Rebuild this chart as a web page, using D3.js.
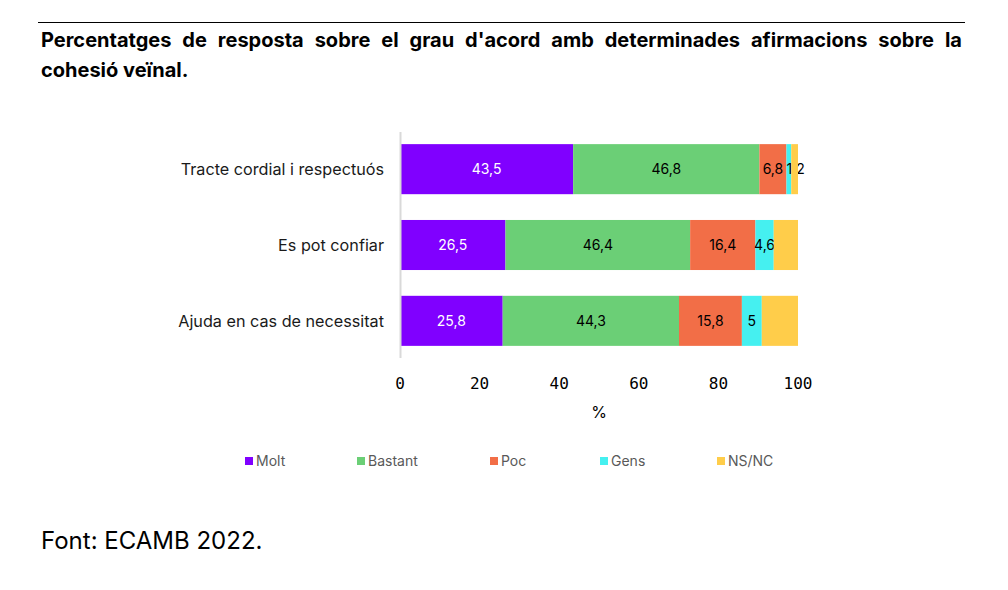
<!DOCTYPE html>
<html>
<head>
<meta charset="utf-8">
<script src="https://cdn.jsdelivr.net/npm/d3@7"></script>
<style>
  body { margin: 0; background: #fff; }
  text { font-family: Inter, "Noto Sans", sans-serif; }
</style>
</head>
<body>
<div class="content"></div>
<script>
var categories = ['Tracte cordial i respectuós', 'Es pot confiar', 'Ajuda en cas de necessitat']
var seriesNames = ['Molt', 'Bastant', 'Poc', 'Gens', 'NS/NC']
var molt = [43.5, 26.5, 25.8]
var bastant = [46.8, 46.4, 44.3]
var poc = [6.8, 16.4, 15.8]
var gens = [1.2, 4.6, 5]
var nsnc = [1.7, 6.1, 9.1]
var xTicks = [0, 20, 40, 60, 80, 100]
var colors = ['#8000ff', '#6bcf76', '#f26e47', '#45f0f0', '#ffcd4a']
var showLabel = [true, true, true, true, false]

var width = 1008
var height = 590

var rows = categories.map(function(c, i) {
    return { cat: c, Molt: molt[i], Bastant: bastant[i], Poc: poc[i], Gens: gens[i], 'NS/NC': nsnc[i] }
})

var svg = d3.select('.content').append('svg')
    .attr('width', width)
    .attr('height', height)

// top rule + title
svg.append('line')
    .attr('x1', 38).attr('x2', 965)
    .attr('y1', 22.5).attr('y2', 22.5)
    .attr('stroke', '#000').attr('stroke-width', 1)

var title1 = svg.append('text')
    .attr('x', 41).attr('y', 47)
    .style('font-size', '20px').style('font-weight', 'bold')
    .text("Percentatges de resposta sobre el grau d'acord amb determinades afirmacions sobre la")
// justify first line by spreading the words
var natural = title1.node().getComputedTextLength()
var gaps = title1.text().split(' ').length - 1
title1.style('word-spacing', ((921 - natural) / gaps) + 'px')

svg.append('text')
    .attr('x', 41).attr('y', 77)
    .style('font-size', '20px').style('font-weight', 'bold')
    .text('cohesió veïnal.')

var x = d3.scaleLinear()
    .domain([0, 100])
    .range([400, 798])

var y = d3.scaleBand()
    .domain(categories)
    .range([132, 358])
    .paddingInner(0.34)
    .paddingOuter(0.16)

var stack = d3.stack().keys(seriesNames)(rows)

var layers = svg.append('g').selectAll('g')
    .data(stack)
    .enter().append('g')
    .attr('fill', function(d, i) { return colors[i] })

layers.selectAll('rect')
    .data(function(d) { return d })
    .enter().append('rect')
    .attr('x', function(d) { return x(d[0]) })
    .attr('width', function(d) { return x(d[1]) - x(d[0]) })
    .attr('y', function(d) { return y(d.data.cat) })
    .attr('height', y.bandwidth())

layers.each(function(s, i) {
    if (!showLabel[i]) return
    d3.select(this).selectAll('text')
        .data(s)
        .enter().append('text')
        .attr('x', function(d) {
            var w = x(d[1]) - x(d[0])
            return w < 12 ? x(d[0]) : (x(d[0]) + x(d[1])) / 2
        })
        .attr('y', function(d) { return y(d.data.cat) + y.bandwidth() / 2 })
        .attr('dy', '0.35em')
        .attr('text-anchor', function(d) { return x(d[1]) - x(d[0]) < 12 ? 'start' : 'middle' })
        .attr('fill', i === 0 ? '#fff' : '#000')
        .style('font-size', '14px')
        .text(function(d) { return String(+(d[1] - d[0]).toFixed(1)).replace('.', ',') })
})

// y axis line + category labels
svg.append('line')
    .attr('x1', 400.5).attr('x2', 400.5)
    .attr('y1', 132).attr('y2', 358)
    .attr('stroke', '#d9d9d9').attr('stroke-width', 2)

svg.append('g').selectAll('text')
    .data(categories)
    .enter().append('text')
    .attr('x', 384)
    .attr('y', function(d) { return y(d) + y.bandwidth() / 2 })
    .attr('dy', '0.35em')
    .attr('text-anchor', 'end')
    .attr('fill', '#1a1a1a')
    .style('font-size', '16.2px')
    .text(function(d) { return d })

// x tick labels
svg.append('g').selectAll('text')
    .data(xTicks)
    .enter().append('text')
    .attr('x', function(d) { return x(d) })
    .attr('y', 389)
    .attr('text-anchor', 'middle')
    .style('font-family', '"DejaVu Sans Mono", monospace')
    .style('font-size', '16px')
    .text(function(d) { return d })

svg.append('text')
    .attr('x', 599).attr('y', 418)
    .attr('text-anchor', 'middle')
    .style('font-size', '16px')
    .text('%')

// legend
var legendX = [245, 357, 490, 600, 717]
var legend = svg.append('g').selectAll('g')
    .data(seriesNames)
    .enter().append('g')
    .attr('transform', function(d, i) { return 'translate(' + legendX[i] + ',455)' })
legend.append('rect')
    .attr('width', 8).attr('height', 8)
    .attr('y', 2)
    .attr('fill', function(d, i) { return colors[i] })
legend.append('text')
    .attr('x', 11).attr('y', 6)
    .attr('dy', '0.35em')
    .attr('fill', '#595959')
    .style('font-size', '14px')
    .text(function(d) { return d })

svg.append('text')
    .attr('x', 41).attr('y', 549)
    .style('font-size', '24px')
    .text('Font: ECAMB 2022.')
</script>
</body>
</html>
